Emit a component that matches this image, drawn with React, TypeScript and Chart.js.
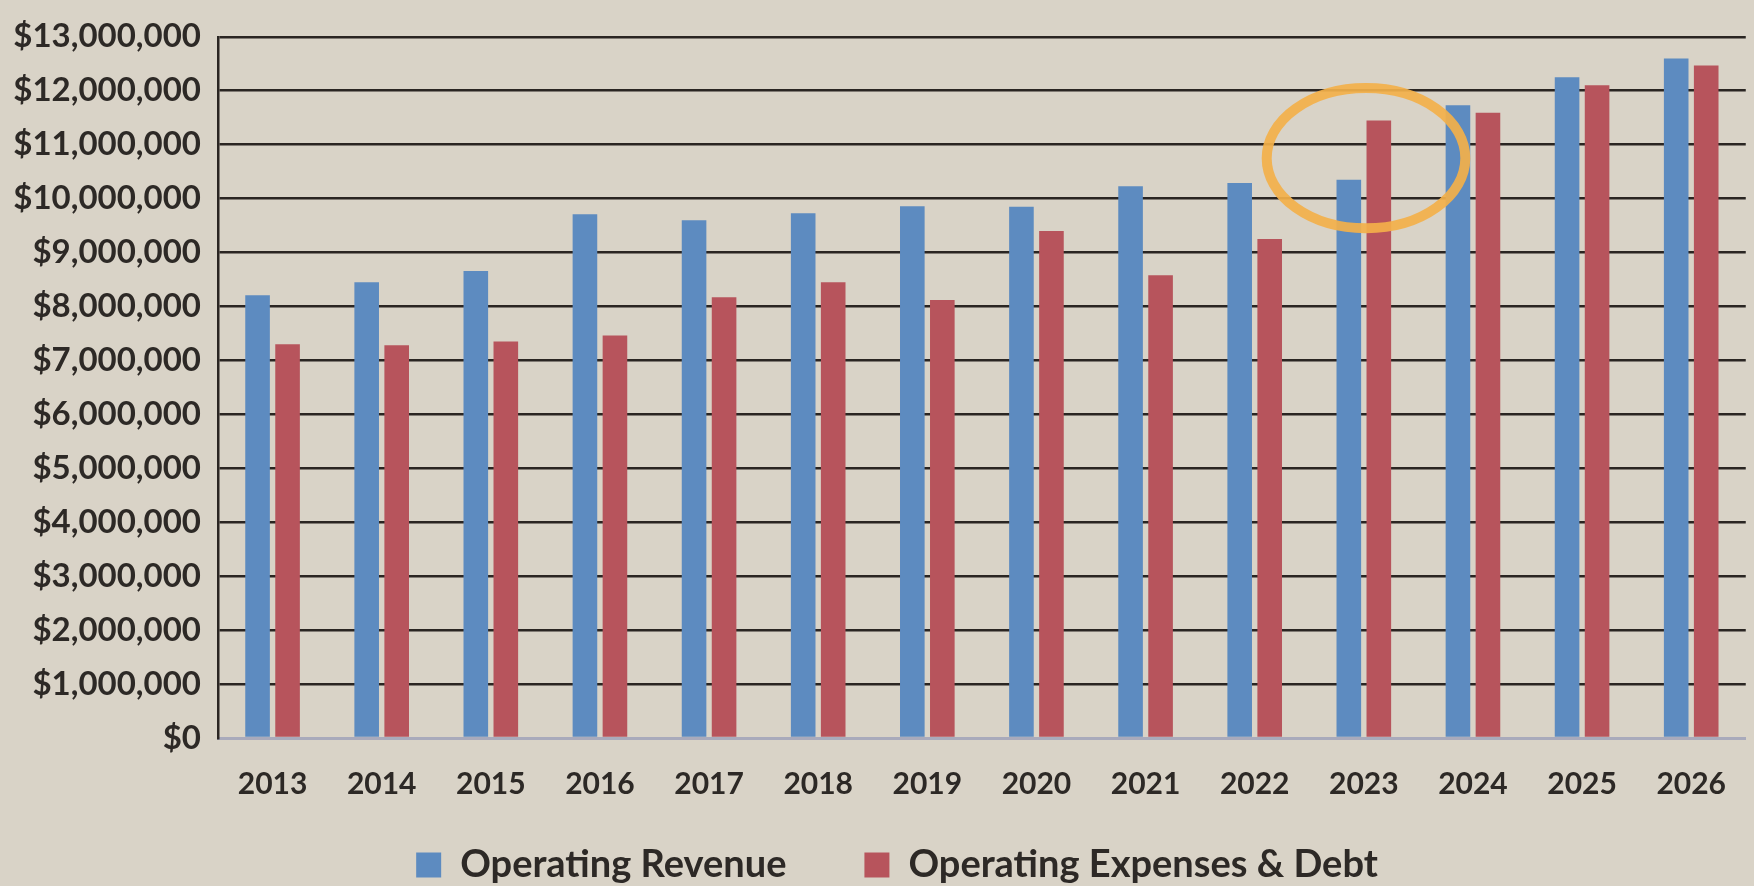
import React, { useEffect, useRef } from 'react';
import { Chart, registerables } from 'chart.js';

Chart.register(...registerables);

// ---- Data ----
const years = ['2013', '2014', '2015', '2016', '2017', '2018', '2019', '2020', '2021', '2022', '2023', '2024', '2025', '2026'];
const operatingRevenue = [8210000, 8450000, 8660000, 9710000, 9600000, 9730000, 9860000, 9850000, 10230000, 10290000, 10350000, 11730000, 12250000, 12600000];
const operatingExpensesDebt = [7300000, 7280000, 7350000, 7460000, 8170000, 8450000, 8120000, 9400000, 8580000, 9250000, 11450000, 11590000, 12100000, 12470000];
const seriesNames = ['Operating Revenue', 'Operating Expenses & Debt'];
const yMin = 0;
const yMax = 13000000;
const yStep = 1000000;

// highlighted area (orange ring) in data units
const highlightYear = '2023';
const highlightCategoryShift = 0.02;
const highlightCenterValue = 10750000;
const highlightHalfHeightValue = 1300000;
const highlightHalfWidthCategories = 0.91;

// ---- Styles ----
const BG = '#D9D3C7';
const BLUE = '#5D8BC0';
const RED = '#B7545C';
const INK = '#2D2926';
const GRID = '#2A2522';
const BASE = '#A9AABB';
const RING = 'rgba(243, 176, 74, 0.92)';
const FONT = 'Lato';
const LEGEND_SHIFT_X = 20;
const LEGEND_SHIFT_Y = -38;

const fmt = (v: number) => '$' + Math.round(v).toLocaleString('en-US');

const ringPlugin = {
  id: 'ringPlugin',
  afterDatasetsDraw(chart: any) {
    const { ctx, scales } = chart;
    const x = scales.x;
    const y = scales.y;
    const idx = years.indexOf(highlightYear);
    if (idx < 0) return;
    const catW = x.getPixelForValue(1) - x.getPixelForValue(0);
    const cx = x.getPixelForValue(idx + highlightCategoryShift);
    const cy = y.getPixelForValue(highlightCenterValue);
    const ry = Math.abs(y.getPixelForValue(highlightCenterValue + highlightHalfHeightValue) - cy);
    const rx = catW * highlightHalfWidthCategories;
    ctx.save();
    ctx.beginPath();
    ctx.ellipse(cx, cy, rx, ry, 0, 0, Math.PI * 2);
    ctx.strokeStyle = RING;
    ctx.lineWidth = 10;
    ctx.stroke();
    ctx.restore();
  },
};

// nudges the built-in legend so that its row sits where the reference has it
const legendPlacePlugin = {
  id: 'legendPlace',
  afterLayout(chart: any) {
    const lg = chart.legend;
    if (!lg) return;
    lg.left += LEGEND_SHIFT_X;
    lg.right += LEGEND_SHIFT_X;
    lg.top += LEGEND_SHIFT_Y;
  },
};

export default function App() {
  const canvasRef = useRef<HTMLCanvasElement | null>(null);

  useEffect(() => {
    if (!canvasRef.current) return;
    const chart = new Chart(canvasRef.current, {
      type: 'bar',
      data: {
        labels: years,
        datasets: [
          {
            label: seriesNames[0],
            data: operatingRevenue,
            backgroundColor: BLUE,
            categoryPercentage: 0.55,
            barPercentage: 0.82,
          },
          {
            label: seriesNames[1],
            data: operatingExpensesDebt,
            backgroundColor: RED,
            categoryPercentage: 0.55,
            barPercentage: 0.82,
          },
        ],
      },
      options: {
        animation: false,
        responsive: true,
        maintainAspectRatio: false,
        layout: { padding: { left: 0, right: 0, top: 27, bottom: 0 } },
        plugins: {
          legend: {
            position: 'bottom',
            maxHeight: 80,
            labels: {
              font: { family: FONT, weight: 'bold', size: 38 },
              color: INK,
              boxWidth: 25,
              boxHeight: 25,
              padding: 78,
            },
          },
          tooltip: { enabled: false },
        },
        scales: {
          x: {
            grid: { display: false, drawTicks: false },
            border: { display: true, color: BASE, width: 3 },
            ticks: {
              font: { family: FONT, weight: 'bold', size: 30 },
              color: INK,
              padding: 28,
              autoSkip: false,
              maxRotation: 0,
            },
            afterFit: (s: any) => {
              s.height = 68;
            },
          },
          y: {
            min: yMin,
            max: yMax,
            ticks: {
              stepSize: yStep,
              callback: (v: any) => fmt(Number(v)),
              font: { family: FONT, weight: 'bold', size: 33 },
              color: INK,
              padding: 17,
            },
            grid: {
              drawTicks: false,
              lineWidth: 2.5,
              color: (c: any) => (c.tick && c.tick.value === 0 ? 'rgba(0,0,0,0)' : GRID),
            },
            border: { display: true, color: GRID, width: 2.5 },
            afterFit: (s: any) => {
              s.width = 218;
            },
          },
        },
      },
      plugins: [ringPlugin, legendPlacePlugin],
    });
    return () => chart.destroy();
  }, []);

  return (
    <div
      style={{
        position: 'fixed',
        left: 0,
        top: 0,
        width: 1754,
        height: 886,
        background: BG,
      }}
    >
      <canvas ref={canvasRef} />
    </div>
  );
}
